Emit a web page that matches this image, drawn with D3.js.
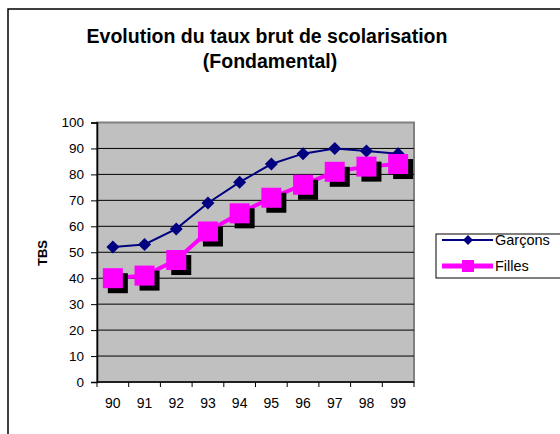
<!DOCTYPE html>
<html>
<head>
<meta charset="utf-8">
<script src="https://cdn.jsdelivr.net/npm/d3@7"></script>
<style>
  body { margin: 0; background: #fff; }
  text { font-family: Arial, "Liberation Sans", sans-serif; }
</style>
</head>
<body>
<div id="chart"></div>
<script>
// data
const years = ["90", "91", "92", "93", "94", "95", "96", "97", "98", "99"];
const garcons = [52, 53, 59, 69, 77, 84, 88, 90, 89, 88];
const filles = [40, 41, 47, 58, 65, 71, 76, 81, 83, 84];
const yTicks = [0, 10, 20, 30, 40, 50, 60, 70, 80, 90, 100];
const seriesNames = ["Garçons", "Filles"];

const width = 560, height = 434;
const plot = { left: 97, right: 414, top: 122.5, bottom: 382 };

const svg = d3.select("#chart").append("svg")
    .attr("width", width)
    .attr("height", height);

// outer chart frame
svg.append("rect")
    .attr("x", 8).attr("y", 9)
    .attr("width", 580).attr("height", 460)
    .attr("fill", "#fff")
    .attr("stroke", "#000")
    .attr("stroke-width", 1.5);

// title
const title = svg.append("text")
    .attr("text-anchor", "middle")
    .attr("font-size", "19.5px")
    .attr("font-weight", "bold");
title.append("tspan").attr("x", 267).attr("y", 43).text("Evolution du taux brut de scolarisation");
title.append("tspan").attr("x", 270).attr("y", 68).text("(Fondamental)");

const x = d3.scaleBand().domain(years).range([plot.left, plot.right]);
const y = d3.scaleLinear().domain([0, 100]).range([plot.bottom, plot.top]);

// plot background
svg.append("rect")
    .attr("x", plot.left).attr("y", plot.top)
    .attr("width", plot.right - plot.left).attr("height", plot.bottom - plot.top)
    .attr("fill", "#c0c0c0")
    .attr("stroke", "#808080")
    .attr("stroke-width", 2);

// gridlines
svg.append("g")
    .selectAll("line")
    .data(yTicks.filter(d => d > 0 && d < 100))
    .join("line")
    .attr("x1", plot.left).attr("x2", plot.right)
    .attr("y1", d => y(d)).attr("y2", d => y(d))
    .attr("stroke", "#000")
    .attr("stroke-width", 1);

// y axis
const yAxis = d3.axisLeft(y).tickValues(yTicks).tickSize(6).tickPadding(7);
const gy = svg.append("g")
    .attr("transform", `translate(${plot.left},0)`)
    .call(yAxis);
gy.select(".domain").attr("stroke", "#000").attr("stroke-width", 1.5);
gy.selectAll("text").attr("font-size", "13.5px").attr("font-family", "Arial, 'Liberation Sans', sans-serif").attr("fill", "#000");

// x axis (ticks between categories)
const xAxis = d3.axisBottom(x).tickSize(0).tickPadding(16);
const gx = svg.append("g")
    .attr("transform", `translate(0,${plot.bottom})`)
    .call(xAxis);
gx.select(".domain").remove();
gx.selectAll("text").attr("font-size", "14px").attr("font-family", "Arial, 'Liberation Sans', sans-serif").attr("fill", "#000");
svg.append("line")
    .attr("x1", plot.left).attr("x2", plot.right)
    .attr("y1", plot.bottom).attr("y2", plot.bottom)
    .attr("stroke", "#000").attr("stroke-width", 1.5);
svg.append("g")
    .selectAll("line")
    .data(years.concat(["end"]))
    .join("line")
    .attr("x1", (d, i) => plot.left + i * x.step())
    .attr("x2", (d, i) => plot.left + i * x.step())
    .attr("y1", plot.bottom).attr("y2", plot.bottom + 5)
    .attr("stroke", "#000");

// y title
svg.append("text")
    .attr("transform", "translate(46.5,253) rotate(-90)")
    .attr("text-anchor", "middle")
    .attr("font-size", "13px")
    .attr("font-weight", "bold")
    .text("TBS");

const cx = d => x(d) + x.bandwidth() / 2;
const line = d3.line().x((d, i) => cx(years[i])).y(d => y(d));

// Garçons line + diamonds
svg.append("path")
    .datum(garcons)
    .attr("d", line)
    .attr("fill", "none")
    .attr("stroke", "#000080")
    .attr("stroke-width", 2);

const diamond = s => `M0,${-s}L${s},0L0,${s}L${-s},0Z`;
svg.append("g")
    .selectAll("path")
    .data(garcons)
    .join("path")
    .attr("transform", (d, i) => `translate(${cx(years[i])},${y(d)})`)
    .attr("d", diamond(6.5))
    .attr("fill", "#000080");

// Filles line + squares with shadow
svg.append("path")
    .datum(filles)
    .attr("d", line)
    .attr("fill", "none")
    .attr("stroke", "#ff00ff")
    .attr("stroke-width", 4);

const sq = 20;
svg.append("g")
    .selectAll("rect")
    .data(filles)
    .join("rect")
    .attr("x", (d, i) => cx(years[i]) - sq / 2 + 5)
    .attr("y", d => y(d) - sq / 2 + 5)
    .attr("width", sq).attr("height", sq)
    .attr("fill", "#000");
svg.append("g")
    .selectAll("rect")
    .data(filles)
    .join("rect")
    .attr("x", (d, i) => cx(years[i]) - sq / 2)
    .attr("y", d => y(d) - sq / 2)
    .attr("width", sq).attr("height", sq)
    .attr("fill", "#ff00ff");

// legend
const legend = svg.append("g");
legend.append("rect")
    .attr("x", 436).attr("y", 234)
    .attr("width", 160).attr("height", 44)
    .attr("fill", "#fff")
    .attr("stroke", "#000");

const lg = legend.selectAll("g.item")
    .data(seriesNames)
    .join("g")
    .attr("class", "item")
    .attr("transform", (d, i) => `translate(0,${240 + i * 26})`);
lg.append("line")
    .attr("x1", 442).attr("x2", 493)
    .attr("stroke", (d, i) => i === 0 ? "#000080" : "#ff00ff")
    .attr("stroke-width", (d, i) => i === 0 ? 2 : 5);
lg.filter((d, i) => i === 0).append("path")
    .attr("transform", "translate(468,0)")
    .attr("d", diamond(5))
    .attr("fill", "#000080");
lg.filter((d, i) => i === 1).append("rect")
    .attr("x", 462).attr("y", -6).attr("width", 12).attr("height", 12)
    .attr("fill", "#ff00ff");
lg.append("text")
    .attr("x", 495).attr("y", 5)
    .attr("font-size", "14.5px")
    .text(d => d);
</script>
</body>
</html>
